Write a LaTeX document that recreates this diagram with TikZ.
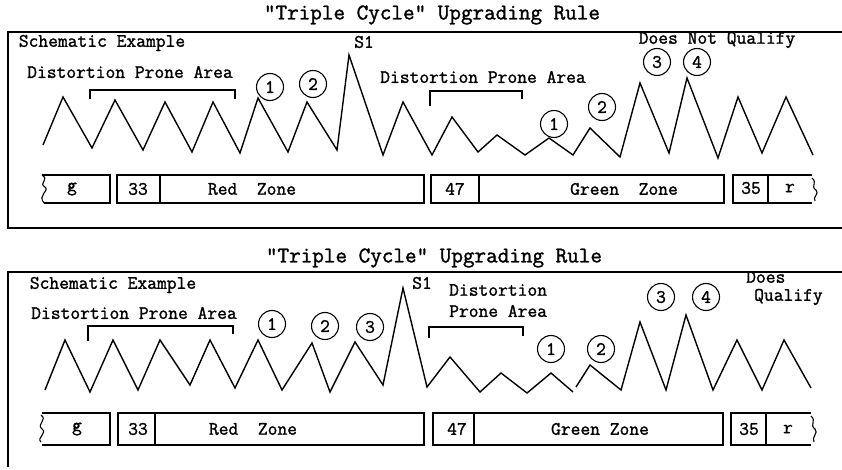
\documentclass[tikz,border=0pt]{standalone}
\usepackage{fontspec}
\newfontfamily\twfont{Latin Modern Mono}[RawFeature={embolden=1.4}]
\begin{document}
\begin{tikzpicture}[x=1pt,y=-1pt,
  wave/.style={line width=1.4pt, line join=miter},
  frameline/.style={line width=1.3pt},
  barline/.style={line width=1.1pt},
  lbl/.style={font=\fontsize{19}{21}\selectfont\twfont, inner sep=0pt},
  ttl/.style={font=\fontsize{22.5}{24}\selectfont\twfont, inner sep=0pt},
  num/.style={circle, draw, line width=1.1pt, minimum size=27pt, inner sep=0pt, font=\fontsize{19}{20}\selectfont\twfont}]
\useasboundingbox (0,0) rectangle (842,470);

%================ Panel 1 ================
\node[ttl] (t1) at (432,15) {"Triple Cycle" Upgrading Rule};
\draw[frameline] (842,32) -- (8,32) -- (8,228) -- (842,228);
\node[lbl] (se1) at (102,43) {Schematic Example};
\node[lbl] (dpa1) at (130,72) {Distortion Prone Area};
\node[lbl] (dpb1) at (483,77) {Distortion Prone Area};
\node[lbl] (s1a) at (364,42) {S1};
\node[lbl] (dnq) at (717,40) {Does Not Qualify};
\draw[barline] (90,99) -- (90,90) -- (235,90) -- (235,99);
\draw[barline] (430,106) -- (430,91) -- (522,91) -- (522,99);

\draw[wave] (43,145) -- (63,97) -- (92,148) -- (115,100) -- (143,150) -- (165,102)
  -- (192,152) -- (213,102) -- (240,153) -- (258,98) -- (288,152) -- (307,102)
  -- (337,150) -- (349,55) -- (383,155) -- (403,102) -- (432,155) -- (452,117)
  -- (478,152) -- (497,135) -- (525,155) -- (549,138) -- (573,155) -- (590,128)
  -- (620,157) -- (640,83) -- (669,153) -- (687,78) -- (718,158) -- (738,97)
  -- (762,153) -- (786,97) -- (813,155);

\node[num] (a1) at (270,87) {1};
\node[num] (a2) at (313,84) {2};
\node[num] (b1) at (554,124) {1};
\node[num] (b2) at (602,107) {2};
\node[num] (b3) at (657,62) {3};
\node[num] (b4) at (697,62) {4};

% bar 1
\draw[barline] (42,175) -- (110,175) -- (110,203) -- (44,203);
\draw[barline] (42,175) .. controls (50,180) and (38,183) .. (45,187)
  .. controls (50,191) and (37,195) .. (44,203);
\node[lbl] (g1) at (72,189) {g};
\draw[barline] (117,175) rectangle (424,203);
\draw[barline] (160,175) -- (160,203);
\node[lbl] (n33a) at (138,189) {33};
\node[lbl] (rz1) at (252,189) {Red~~Zone};
\draw[barline] (431,175) rectangle (724,203);
\draw[barline] (479,175) -- (479,203);
\node[lbl] (n47a) at (455,189) {47};
\node[lbl] (gz1) at (624,189) {Green~~Zone};
\draw[barline] (812,175) -- (733,175) -- (733,203) -- (812,203);
\draw[barline] (768,175) -- (768,203);
\draw[barline] (812,178) .. controls (818,183) and (810,186) .. (816,190)
  .. controls (820,194) and (812,197) .. (815,201);
\node[lbl] (n35a) at (751,188) {35};
\node[lbl] (ra) at (790,188) {r};

%================ Panel 2 ================
\node[ttl] (t2) at (434,258) {"Triple Cycle" Upgrading Rule};
\draw[frameline] (842,272) -- (8,272) -- (8,467);
\node[lbl] (se2) at (113,285) {Schematic Example};
\node[lbl] (dpa2) at (134,313) {Distortion Prone Area};
\node[lbl, anchor=west] (dpb2a) at (449,290) {Distortion};
\node[lbl, anchor=west] (dpb2b) at (449,311) {Prone Area};
\node[lbl] (s1b) at (422,283) {S1};
\node[lbl, anchor=west] (dq1) at (746,277) {Does};
\node[lbl, anchor=west] (dq2) at (754,297) {Qualify};
\draw[barline] (88,341) -- (88,326) -- (233,326) -- (233,334);
\draw[barline] (429,338) -- (429,327) -- (523,327) -- (523,336);

\draw[wave] (45,390) -- (65,340) -- (90,392) -- (113,340) -- (138,390) -- (160,340)
  -- (190,385) -- (210,340) -- (235,388) -- (258,340) -- (282,390) -- (312,343)
  -- (330,392) -- (355,342) -- (383,385) -- (403,288) -- (427,387) -- (450,357)
  -- (480,392) -- (501,373) -- (527,393) -- (551,373) -- (573,392);
\draw[wave] (576,387) -- (590,365) -- (621,390) -- (640,322) -- (666,390)
  -- (686,315) -- (713,390) -- (737,340) -- (762,390) -- (784,340) -- (811,388);

\node[num] (c1) at (272,324) {1};
\node[num] (c2) at (325,326) {2};
\node[num] (c3) at (370,327) {3};
\node[num] (d1) at (551,349) {1};
\node[num] (d2) at (601,349) {2};
\node[num] (d3) at (661,297) {3};
\node[num] (d4) at (706,297) {4};

% bar 2
\draw[barline] (42,413) -- (110,413) -- (110,445) -- (42,445);
\draw[barline] (41,415) .. controls (48,420) and (36,424) .. (42,429)
  .. controls (48,433) and (36,438) .. (41,442);
\node[lbl] (g2) at (77,429) {g};
\draw[barline] (118,413) rectangle (424,445);
\draw[barline] (155,413) -- (155,445);
\node[lbl] (n33b) at (138,429) {33};
\node[lbl] (rz2) at (253,429) {Red~~Zone};
\draw[barline] (433,413) rectangle (723,445);
\draw[barline] (474,413) -- (474,445);
\node[lbl] (n47b) at (457,429) {47};
\node[lbl] (gz2) at (600,429) {Green Zone};
\draw[barline] (811,413) -- (731,413) -- (731,445) -- (811,445);
\draw[barline] (766,413) -- (766,445);
\draw[barline] (811,416) .. controls (817,421) and (809,425) .. (815,429)
  .. controls (819,433) and (811,437) .. (814,442);
\node[lbl] (n35b) at (749,429) {35};
\node[lbl] (rb) at (788,429) {r};
\end{tikzpicture}
\end{document}
